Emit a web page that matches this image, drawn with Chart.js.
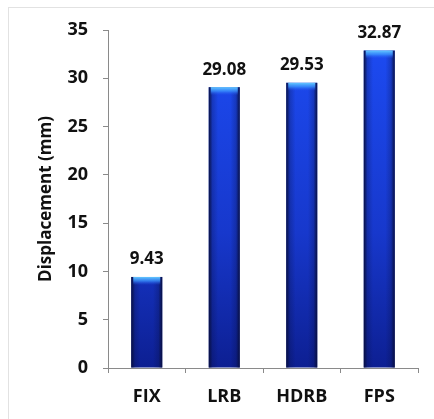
<!DOCTYPE html>
<html>
<head>
<meta charset="utf-8">
<script src="https://cdn.jsdelivr.net/npm/chart.js"></script>
<style>
    html, body { margin: 0; padding: 0; background: #fff; }
    #wrap { width: 434px; height: 419px; position: relative; }
</style>
</head>
<body>
<div id="wrap"><canvas id="dispChart"></canvas></div>
<script>
    const categories = ['FIX', 'LRB', 'HDRB', 'FPS'];
    const displacement = [9.43, 29.08, 29.53, 32.87];
    const yTicks = [0, 5, 10, 15, 20, 25, 30, 35];

    const FONT = '"Open Sans", "Liberation Sans", sans-serif';

    // vertical body colour, bright at the top, deeper at the base
    function barFill(context) {
        const chart = context.chart;
        const area = chart.chartArea;
        if (!area) return '#1a3cd8';
        const g = chart.ctx.createLinearGradient(0, area.top, 0, area.bottom);
        g.addColorStop(0, '#1d4cf4');
        g.addColorStop(0.6, '#1738cc');
        g.addColorStop(1, '#0d1f92');
        return g;
    }

    // edge shading + light cap so bars look like the 3D cylinders
    const cylinderLook = {
        id: 'cylinderLook',
        afterDatasetsDraw(chart) {
            const ctx = chart.ctx;
            const meta = chart.getDatasetMeta(0);
            meta.data.forEach((bar) => {
                const p = bar.getProps(['x', 'y', 'base', 'width'], true);
                const left = p.x - p.width / 2;
                const h = p.base - p.y;
                ctx.save();
                const g = ctx.createLinearGradient(left, 0, left + p.width, 0);
                g.addColorStop(0, 'rgba(8,14,60,0.95)');
                g.addColorStop(0.12, 'rgba(8,14,60,0.25)');
                g.addColorStop(0.3, 'rgba(8,14,60,0)');
                g.addColorStop(0.7, 'rgba(8,14,60,0)');
                g.addColorStop(0.88, 'rgba(8,14,60,0.25)');
                g.addColorStop(1, 'rgba(8,14,60,0.95)');
                ctx.fillStyle = g;
                ctx.fillRect(left, p.y, p.width, h);
                // top cap highlight
                const c = ctx.createLinearGradient(0, p.y, 0, p.y + 8);
                c.addColorStop(0, 'rgba(100,200,255,1)');
                c.addColorStop(0.5, 'rgba(60,150,255,0.75)');
                c.addColorStop(1, 'rgba(40,90,240,0)');
                ctx.fillStyle = c;
                ctx.fillRect(left + 2, p.y, p.width - 4, 8);
                ctx.restore();
            });
        }
    };

    const valueLabels = {
        id: 'valueLabels',
        afterDatasetsDraw(chart) {
            const ctx = chart.ctx;
            const meta = chart.getDatasetMeta(0);
            ctx.save();
            ctx.font = 'bold 17px ' + FONT;
            ctx.fillStyle = '#111';
            ctx.textAlign = 'center';
            ctx.textBaseline = 'bottom';
            meta.data.forEach((bar, i) => {
                ctx.fillText(displacement[i].toFixed(2), bar.x, bar.y - 9);
            });
            ctx.restore();
        }
    };

    // faint frame of the original figure box
    const frame = {
        id: 'frame',
        beforeDraw(chart) {
            const ctx = chart.ctx;
            ctx.save();
            ctx.strokeStyle = '#e2e2e2';
            ctx.lineWidth = 1;
            ctx.strokeRect(8.5, 7.5, 480, 430);
            ctx.restore();
        }
    };

    new Chart(document.getElementById('dispChart'), {
        type: 'bar',
        data: {
            labels: categories,
            datasets: [{
                data: displacement,
                backgroundColor: barFill,
                borderWidth: 0,
                categoryPercentage: 0.8,
                barPercentage: 0.5
            }]
        },
        options: {
            responsive: true,
            maintainAspectRatio: false,
            animation: false,
            layout: { padding: { top: 30, right: 16, left: 0, bottom: 0 } },
            plugins: {
                legend: { display: false },
                tooltip: { enabled: false }
            },
            scales: {
                x: {
                    grid: {
                        display: true,
                        drawOnChartArea: false,
                        drawTicks: true,
                        tickLength: 5,
                        color: '#8a8a8a',
                        offset: true
                    },
                    border: { display: true, color: '#8a8a8a', width: 1 },
                    ticks: {
                        color: '#111',
                        padding: 13,
                        font: { family: FONT, size: 18, weight: 'bold' }
                    },
                    afterFit(s) { s.height = 51; }
                },
                y: {
                    min: 0,
                    max: 35,
                    afterBuildTicks(s) { s.ticks = yTicks.map(v => ({ value: v })); },
                    grid: {
                        display: true,
                        drawOnChartArea: false,
                        drawTicks: true,
                        tickLength: 5,
                        color: '#8a8a8a'
                    },
                    border: { display: true, color: '#8a8a8a', width: 1 },
                    ticks: {
                        color: '#111',
                        padding: 15,
                        font: { family: FONT, size: 18, weight: 'bold' }
                    },
                    title: {
                        display: true,
                        text: 'Displacement (mm)',
                        color: '#111',
                        padding: { top: 36, bottom: 0 },
                        font: { family: FONT, size: 17, weight: 'bold' }
                    },
                    afterFit(s) { s.width = 108; }
                }
            }
        },
        plugins: [frame, cylinderLook, valueLabels]
    });
</script>
</body>
</html>
